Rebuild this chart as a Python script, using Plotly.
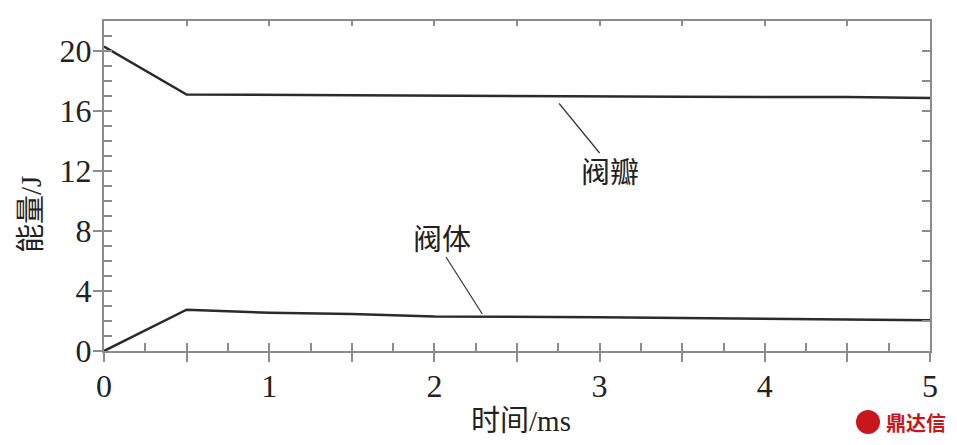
import plotly.graph_objects as go

# data
t_disc = [0, 0.5, 1.5, 2.5, 3.5, 4.5, 5]
e_disc = [20.3, 17.1, 17.05, 16.98, 16.95, 16.93, 16.87]
t_body = [0, 0.5, 0.75, 1, 1.5, 1.75, 2, 3, 3.5, 4.5, 5]
e_body = [0, 2.75, 2.65, 2.55, 2.47, 2.38, 2.3, 2.25, 2.2, 2.1, 2.05]
x_ticks = [0, 0.5, 1, 1.5, 2, 2.5, 3, 3.5, 4, 4.5, 5]
x_ticktext = ["0", "", "1", "", "2", "", "3", "", "4", "", "5"]
y_ticks = [0, 4, 8, 12, 16, 20]

AX = "#8c8c8c"
LINE = "#2b2b2b"
SERIF = "Liberation Serif, Times New Roman, serif"
NUMFONT = dict(family=SERIF, size=32, color="#222")
CJK = "Noto Sans CJK SC"

fig = go.Figure()
fig.add_trace(go.Scatter(x=t_disc, y=e_disc, mode="lines", name="阀瓣",
                         line=dict(color=LINE, width=2.5), showlegend=False))
fig.add_trace(go.Scatter(x=t_body, y=e_body, mode="lines", name="阀体",
                         line=dict(color=LINE, width=2.5), showlegend=False))
# invisible helpers to activate the tick-only overlay axes
for xa, ya in [("x2", "y2"), ("x3", "y3")]:
    fig.add_trace(go.Scatter(x=t_body, y=e_body, xaxis=xa, yaxis=ya, mode="lines",
                             line=dict(width=0), opacity=0, showlegend=False,
                             hoverinfo="skip"))

common = dict(showgrid=False, zeroline=False, linecolor=AX, linewidth=2,
              tickcolor=AX, tickwidth=2)

fig.update_layout(
    width=957, height=445,
    margin=dict(l=104, r=27, t=21, b=94),
    paper_bgcolor="white", plot_bgcolor="white",
    xaxis=dict(range=[0, 5], tickmode="array", tickvals=x_ticks, ticktext=x_ticktext,
               ticks="outside", ticklen=9, showline=True, tickfont=NUMFONT,
               ticklabelstandoff=-3, **common),
    yaxis=dict(range=[0, 22], tickmode="array", tickvals=y_ticks,
               ticks="outside", ticklen=9, showline=True, tickfont=NUMFONT,
               ticklabelstandoff=-5, **common),
    xaxis2=dict(range=[0, 5], overlaying="x", anchor="y2", side="bottom",
                ticks="inside", dtick=0.25, tick0=0, ticklen=8,
                showticklabels=False, showline=False, **common),
    yaxis2=dict(range=[0, 22], overlaying="y", anchor="x2", side="left",
                ticks="inside", dtick=1, tick0=0, ticklen=8,
                showticklabels=False, showline=False, **common),
    xaxis3=dict(range=[0, 5], overlaying="x", anchor="y3", side="top",
                ticks="inside", dtick=0.5, tick0=0, ticklen=5,
                showticklabels=False, showline=True, **common),
    yaxis3=dict(range=[0, 22], overlaying="y", anchor="x3", side="right",
                ticks="inside", dtick=2, tick0=0, ticklen=8,
                showticklabels=False, showline=True, **common),
)

# leader lines
fig.add_shape(type="line", xref="x", yref="y", x0=2.755, y0=16.5, x1=3.0, y1=13.2,
              line=dict(color="#333", width=1.2))
fig.add_shape(type="line", xref="x", yref="y", x0=2.07, y0=6.27, x1=2.29, y1=2.47,
              line=dict(color="#333", width=1.2))

fig.add_annotation(x=3.06, y=12.07, xref="x", yref="y", text="阀瓣", showarrow=False,
                   xanchor="center", yanchor="middle",
                   font=dict(family=CJK, size=29, color="#222"))
fig.add_annotation(x=2.046, y=7.6, xref="x", yref="y", text="阀体", showarrow=False,
                   xanchor="center", yanchor="middle",
                   font=dict(family=CJK, size=29, color="#222"))

# axis titles (pixel positions converted below)
fig.add_annotation(x=521, y=445 - 418, xref="paper", yref="paper",
                   text="时间<span style='font-family:Liberation Serif'>/ms</span>",
                   showarrow=False, xanchor="center", yanchor="middle",
                   font=dict(family=CJK, size=29, color="#222"))
fig.add_annotation(x=28, y=445 - 215, xref="paper", yref="paper",
                   text="能量<span style='font-family:Liberation Serif'>/J</span>",
                   textangle=-90, showarrow=False, xanchor="center", yanchor="middle",
                   font=dict(family=CJK, size=29, color="#222"))

# watermark
fig.add_annotation(x=916, y=445 - 422, xref="paper", yref="paper", text="<b>鼎达信</b>",
                   showarrow=False, xanchor="center", yanchor="middle",
                   font=dict(family=CJK, size=20, color="#c8161d"))

pw = 957 - 104 - 27
ph = 445 - 21 - 94
for a in fig.layout.annotations:
    if a.xref == "paper":
        a.x = (a.x - 104) / pw
        a.y = (a.y - 94) / ph

fig.add_shape(type="circle", xref="paper", yref="paper",
              x0=(856 - 104) / pw, x1=(880 - 104) / pw,
              y0=(445 - 434 - 94) / ph, y1=(445 - 410 - 94) / ph,
              fillcolor="#c8161d", line=dict(width=0))

fig.write_html("out.html", config={"displayModeBar": False},
               post_script="document.body.style.margin='0';")
